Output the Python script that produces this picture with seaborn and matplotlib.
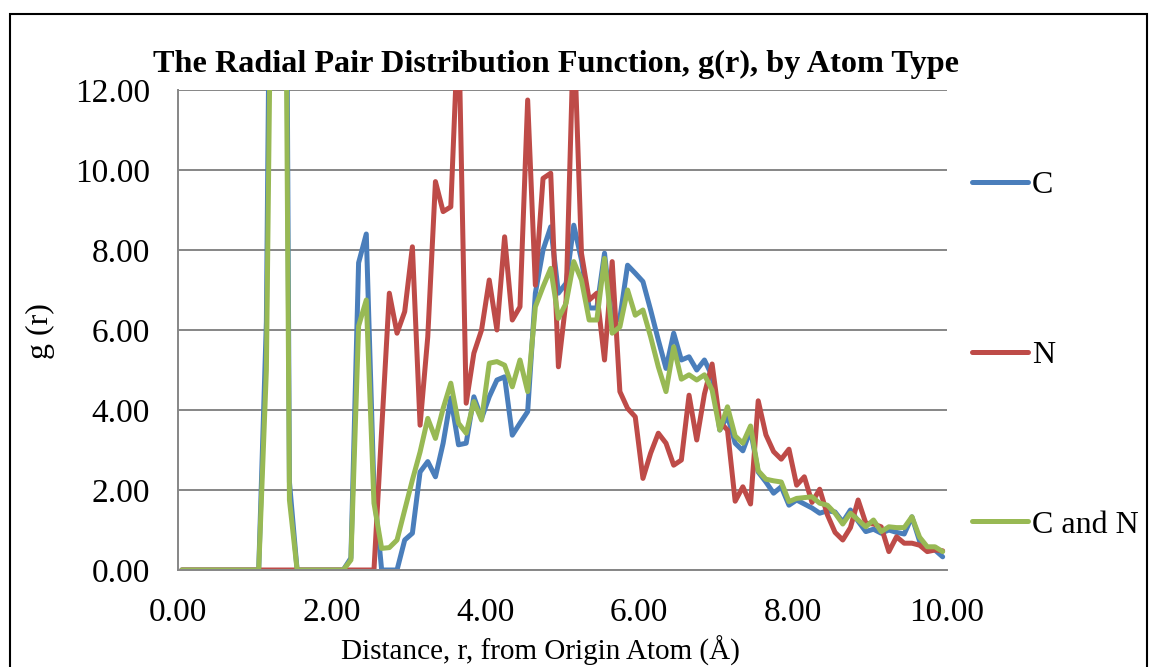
import numpy as np
import pandas as pd
import matplotlib
matplotlib.use("Agg")
import matplotlib.pyplot as plt
from matplotlib.patches import Rectangle
from matplotlib.lines import Line2D
import seaborn as sns

# Radial distance bins (bin centres, Å)
r = np.round(np.arange(100) * 0.1 + 0.05, 2)

g_c = [
    0, 0, 0, 0, 0, 0, 0, 0, 0, 0,
    0, 6.2, 27.5, 37.5, 2.2, 0, 0, 0, 0, 0,
    0, 0, 0.3, 7.68, 8.4, 2.0, 0, 0, 0, 0.75,
    0.92, 2.45, 2.71, 2.33, 3.17, 4.3, 3.13, 3.17, 4.33, 3.79,
    4.33, 4.75, 4.83, 3.37, 3.67, 3.96, 6.92, 8.0, 8.58, 6.92,
    7.17, 8.62, 7.75, 6.55, 6.55, 7.92, 6.15, 6.3, 7.62, 7.42,
    7.21, 6.5, 5.75, 5.04, 5.92, 5.25, 5.33, 5.0, 5.25, 4.85,
    3.5, 3.85, 3.17, 2.98, 3.5, 2.45, 2.2, 1.92, 2.08, 1.62,
    1.75, 1.65, 1.55, 1.42, 1.48, 1.45, 1.2, 1.5, 1.22, 0.96,
    1.02, 0.92, 1.0, 0.94, 0.9, 1.33, 0.72, 0.54, 0.5, 0.33,
]

g_n = [
    0, 0, 0, 0, 0, 0, 0, 0, 0, 0,
    0, 0, 0, 0, 0, 0, 0, 0, 0, 0,
    0, 0, 0, 0, 0, 0, 3.5, 6.92, 5.92, 6.46,
    8.08, 3.62, 5.83, 9.71, 8.96, 9.08, 13.8, 4.17, 5.42, 6.0,
    7.25, 6.0, 8.33, 6.25, 6.58, 11.75, 7.12, 9.79, 9.92, 5.08,
    6.75, 13.6, 7.92, 6.75, 6.92, 5.25, 7.71, 4.46, 4.04, 3.83,
    2.29, 2.92, 3.42, 3.17, 2.62, 2.75, 4.37, 3.25, 4.4, 5.15,
    3.7, 3.5, 1.72, 2.08, 1.65, 4.23, 3.38, 2.96, 2.77, 3.02,
    2.12, 2.33, 1.69, 2.02, 1.38, 0.94, 0.75, 1.06, 1.75, 1.17,
    1.15, 1.08, 0.46, 0.83, 0.67, 0.67, 0.62, 0.46, 0.5, 0.48,
]

g_cn = [
    0, 0, 0, 0, 0, 0, 0, 0, 0, 0,
    0, 5.0, 22.0, 30.0, 1.75, 0, 0, 0, 0, 0,
    0, 0, 0.25, 6.1, 6.75, 1.67, 0.54, 0.56, 0.75, 1.5,
    2.25, 2.95, 3.79, 3.29, 4.04, 4.67, 3.67, 3.42, 4.21, 3.75,
    5.17, 5.21, 5.12, 4.58, 5.25, 4.46, 6.58, 7.08, 7.54, 6.29,
    6.67, 7.71, 7.25, 6.25, 6.25, 7.79, 5.92, 6.08, 7.0, 6.37,
    6.5, 5.83, 5.08, 4.46, 5.58, 4.77, 4.88, 4.75, 4.88, 4.5,
    3.5, 4.08, 3.35, 3.17, 3.6, 2.48, 2.27, 2.23, 2.2, 1.71,
    1.79, 1.81, 1.83, 1.67, 1.62, 1.42, 1.15, 1.42, 1.25, 1.08,
    1.25, 0.96, 1.08, 1.06, 1.06, 1.33, 0.82, 0.58, 0.58, 0.46,
]

series_names = ["C", "N", "C and N"]
series_colors = ["#4A7EBB", "#BE4B48", "#98B954"]
y_ticks = [0, 2, 4, 6, 8, 10, 12]
x_ticks = [0, 2, 4, 6, 8, 10]

df = pd.concat(
    [pd.DataFrame({"r": r, "g": vals, "type": name})
     for name, vals in zip(series_names, [g_c, g_n, g_cn])],
    ignore_index=True,
)

sns.set_theme(style="white")
plt.rcParams["font.family"] = ["Liberation Serif", "DejaVu Serif"]
plt.rcParams["text.color"] = "black"

W, H = 1149, 667
fig = plt.figure(figsize=(W / 100, H / 100), dpi=100)
fig.patch.set_facecolor("white")

# outer chart frame
fig.add_artist(Rectangle((10 / W, -0.05), 1137 / W, 1.05 - 14 / H,
                         transform=fig.transFigure, fill=False,
                         edgecolor="black", linewidth=1.5))

ax = fig.add_axes([178 / W, 1 - 570 / H, (946.5 - 178) / W, (570 - 90) / H])

sns.lineplot(data=df, x="r", y="g", hue="type", hue_order=series_names,
             palette=series_colors, linewidth=3.6, estimator=None,
             sort=False, legend=False, ax=ax)

grid_col = "#868686"
ax.set_xlim(0, 10)
ax.set_ylim(0, 12)
ax.set_xticks(x_ticks)
ax.set_yticks(y_ticks)
ax.set_xticklabels([f"{v:.2f}" for v in x_ticks])
ax.set_yticklabels([f"{v:.2f}" for v in y_ticks])
ax.yaxis.grid(True, color=grid_col, linewidth=1.4)
ax.xaxis.grid(False)
ax.set_axisbelow(True)
for side in ["top", "right"]:
    ax.spines[side].set_visible(False)
for side in ["left", "bottom"]:
    ax.spines[side].set_color(grid_col)
    ax.spines[side].set_linewidth(1.4)
ax.tick_params(axis="both", which="major", direction="out", length=7,
               width=1.4, color=grid_col, labelsize=24, labelcolor="black")
ax.tick_params(axis="y", pad=13)
ax.tick_params(axis="x", pad=13)
ax.set_xlabel("")
ax.set_ylabel("")

fig.text(40 / W, 1 - 331 / H, "g (r)", rotation=90, ha="center",
         va="center", fontsize=23)
fig.text(540 / W, 1 - 651 / H, "Distance, r, from Origin Atom (Å)",
         ha="center", va="center", fontsize=21)
fig.text(556 / W, 1 - 64 / H,
         "The Radial Pair Distribution Function, g(r), by Atom Type",
         ha="center", va="center", fontsize=23.2, fontweight="bold")

handles = [Line2D([0], [0], color=c, linewidth=3.6, solid_capstyle="round")
           for c in series_colors]
fig.legend(handles, series_names, loc="center left",
           bbox_to_anchor=(972 / W, 1 - 355 / H), frameon=False,
           fontsize=23, handlelength=1.75, handletextpad=0.12,
           labelspacing=4.4, borderpad=0, borderaxespad=0)

fig.savefig("out.png", dpi=100, facecolor="white")
